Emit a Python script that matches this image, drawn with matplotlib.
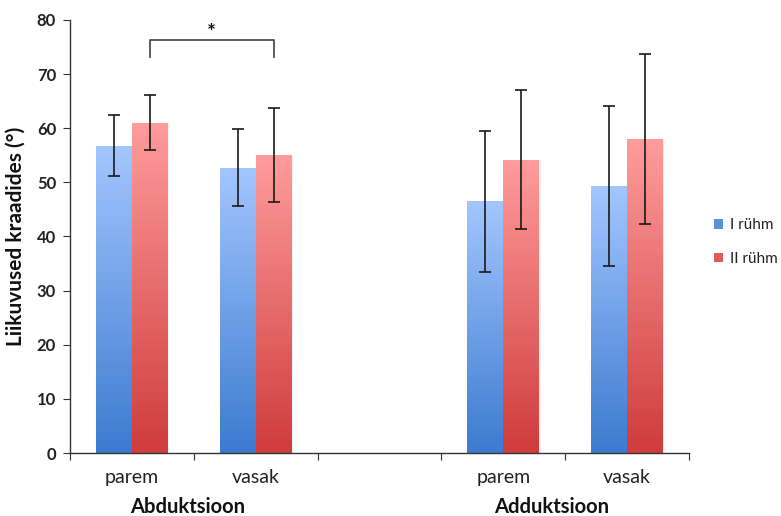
import numpy as np
import matplotlib
matplotlib.use("Agg")
import matplotlib.pyplot as plt
from matplotlib.patches import Patch
from matplotlib.colors import LinearSegmentedColormap

plt.rcParams['font.family'] = ['Lato', 'DejaVu Sans']

# Data
categories = ["parem", "vasak", "", "parem", "vasak"]
groups = ["Abduktsioon", "Adduktsioon"]
series_names = ["I rühm", "II rühm"]
group1_mean = [56.8, 52.7, np.nan, 46.5, 49.3]
group1_sd = [5.6, 7.1, np.nan, 13.0, 14.8]
group2_mean = [61.0, 55.0, np.nan, 54.2, 58.1]
group2_sd = [5.1, 8.7, np.nan, 12.9, 15.7]
y_ticks = [0, 10, 20, 30, 40, 50, 60, 70, 80]

fig = plt.figure(figsize=(7.81, 5.16), dpi=100)
ax = fig.add_axes([70 / 781, 1 - 453 / 516, (689 - 70) / 781, (453 - 20) / 516])

x = np.arange(len(categories))
w = 0.29

blue_cmap = LinearSegmentedColormap.from_list("b", ["#3C7BCF", "#A3C6FF"])
red_cmap = LinearSegmentedColormap.from_list("r", ["#CF3C3C", "#FF9C9C"])

grad = np.linspace(0, 1, 256).reshape(-1, 1)

def gradient_bars(xpos, vals, cmap):
    bars = ax.bar(xpos, vals, width=w, color="none", edgecolor="none", zorder=2)
    for b in bars:
        h = b.get_height()
        if not np.isfinite(h):
            continue
        x0 = b.get_x()
        # soft shadow on the right side
        ax.add_patch(plt.Rectangle((x0 + 0.012, 0), b.get_width(), h,
                                   facecolor="#000000", alpha=0.06,
                                   edgecolor="none", zorder=1.5))
        im = ax.imshow(grad, cmap=cmap, origin="lower", aspect="auto",
                       extent=[x0, x0 + b.get_width(), 0, h], zorder=2)
        im.set_clip_path(b)
    return bars

gradient_bars(x - w / 2, group1_mean, blue_cmap)
gradient_bars(x + w / 2, group2_mean, red_cmap)

err_kw = dict(fmt="none", ecolor="#1a1a1a", elinewidth=1.2, capsize=4,
              capthick=1.2, zorder=4)
ax.errorbar(x - w / 2, group1_mean, yerr=group1_sd, **err_kw)
ax.errorbar(x + w / 2, group2_mean, yerr=group2_sd, **err_kw)

# Significance bracket between the II rühm bars of Abduktsioon
bx0, bx1 = x[0] + w / 2, x[1] + w / 2
ax.plot([bx0, bx0, bx1, bx1], [73.2, 76.3, 76.3, 73.2], color="#404040",
        lw=1.2, zorder=4, clip_on=False)
ax.text((bx0 + bx1) / 2, 77.6, "*", ha="center", va="center",
        fontsize=15, fontweight="bold", color="#111111")

ax.set_xlim(-0.5, len(categories) - 0.5)
ax.set_ylim(0, 80)
ax.set_yticks(y_ticks)
ax.set_yticklabels([str(t) for t in y_ticks], fontsize=12, fontweight="bold",
                   color="#222222")
ax.set_xticks(np.arange(-0.5, len(categories)))
ax.set_xticklabels([])
ax.tick_params(axis="x", length=5, direction="out", color="#333333")
ax.tick_params(axis="y", length=5, direction="out", color="#333333", pad=5)
for s in ["top", "right"]:
    ax.spines[s].set_visible(False)
for s in ["left", "bottom"]:
    ax.spines[s].set_color("#333333")
    ax.spines[s].set_linewidth(1.0)

# Category labels
for xi, lab in zip(x, categories):
    if lab:
        ax.text(xi, -0.057, lab, transform=ax.get_xaxis_transform(),
                ha="center", va="center", fontsize=14, color="#222222")

# Group labels
group_centers = [(x[0] + x[1]) / 2 - 0.05, (x[3] + x[4]) / 2 - 0.11]
for gx, lab in zip(group_centers, groups):
    ax.text(gx, -0.125, lab, transform=ax.get_xaxis_transform(),
            ha="center", va="center", fontsize=14.5, fontweight="bold",
            color="#111111")

ax.set_ylabel("Liikuvused kraadides (°)", fontsize=15, fontweight="bold",
              color="#111111", labelpad=8)

handles = [Patch(facecolor="#5A90DC", edgecolor="none"),
           Patch(facecolor="#E05A5A", edgecolor="none")]
fig.legend(handles, series_names, loc="center left",
           bbox_to_anchor=(700 / 781, 1 - 242 / 516), frameon=False,
           fontsize=11, handlelength=0.6, handleheight=0.6,
           handletextpad=0.45, labelspacing=1.3, labelcolor="#222222")

fig.savefig("out.png", dpi=100)
